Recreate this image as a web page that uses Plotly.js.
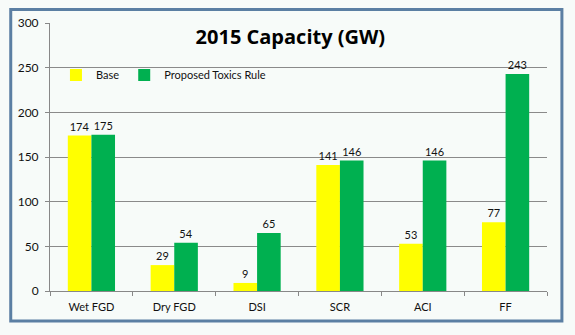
<!DOCTYPE html>
<html><head><meta charset="utf-8">
<script src="https://cdn.plot.ly/plotly-3.0.1.min.js"></script>
<style>html,body{margin:0;padding:0;background:#f7fbf9;}#chart{width:575px;height:335px;}</style>
</head><body><div id="chart"></div>
<script>
const categories = ["Wet FGD", "Dry FGD", "DSI", "SCR", "ACI", "FF"];
const baseValues = [174, 29, 9, 141, 53, 77];
const toxicsValues = [175, 54, 65, 146, 146, 243];
const seriesNames = ["Base", "Proposed Toxics Rule"];
const yTicks = [0, 50, 100, 150, 200, 250, 300];

const font = "Lato, 'Open Sans', sans-serif";
const traces = [
  {type: "bar", name: seriesNames[0], x: categories, y: baseValues, marker: {color: "#ffff00"},
   text: baseValues.map(String), textposition: "outside", cliponaxis: false,
   textfont: {size: 11, color: "#111", family: font}},
  {type: "bar", name: seriesNames[1], x: categories, y: toxicsValues, marker: {color: "#00b050"},
   text: toxicsValues.map(String), textposition: "outside", cliponaxis: false,
   textfont: {size: 11, color: "#111", family: font}}
];
const layout = {
  width: 575, height: 335,
  paper_bgcolor: "#f7fbf9", plot_bgcolor: "#f7fbf9",
  margin: {l: 50, r: 28, t: 23, b: 44},
  barmode: "group", bargap: 0.43, bargroupgap: 0,
  font: {family: font, size: 11, color: "#111"},
  title: {text: "<b>2015 Capacity (GW)</b>", font: {family: "'Open Sans', Lato, sans-serif", size: 20, color: "#000"},
          x: 0.505, xref: "container", y: 0.89, yref: "container", yanchor: "middle"},
  showlegend: true,
  legend: {orientation: "h", x: 0.012, y: 0.86, xanchor: "left", yanchor: "top",
           bgcolor: "rgba(0,0,0,0)", font: {size: 11, family: font}, itemwidth: 30},
  xaxis: {showline: true, linecolor: "#888", linewidth: 1, ticks: "outside", ticklen: 4, tickcolor: "#888",
          tickson: "boundaries", tickfont: {size: 11, family: font, color: "#111"}, showgrid: false,
          ticklabelstandoff: 6},
  yaxis: {range: [0, 300], tickvals: yTicks, showline: true, linecolor: "#888", linewidth: 1,
          ticks: "outside", ticklen: 4, tickcolor: "#888", gridcolor: "#8a8a8a", gridwidth: 1,
          zeroline: false, tickfont: {size: 12, family: font, color: "#111"}, ticklabelstandoff: 4},
  shapes: [{type: "rect", xref: "paper", yref: "paper", x0: -0.079, x1: 1.03, y0: -0.112, y1: 1.05,
            line: {color: "#5b7fa3", width: 3}, fillcolor: "rgba(0,0,0,0)", layer: "below"}]
};
Plotly.newPlot("chart", traces, layout, {displayModeBar: false});
</script></body></html>
